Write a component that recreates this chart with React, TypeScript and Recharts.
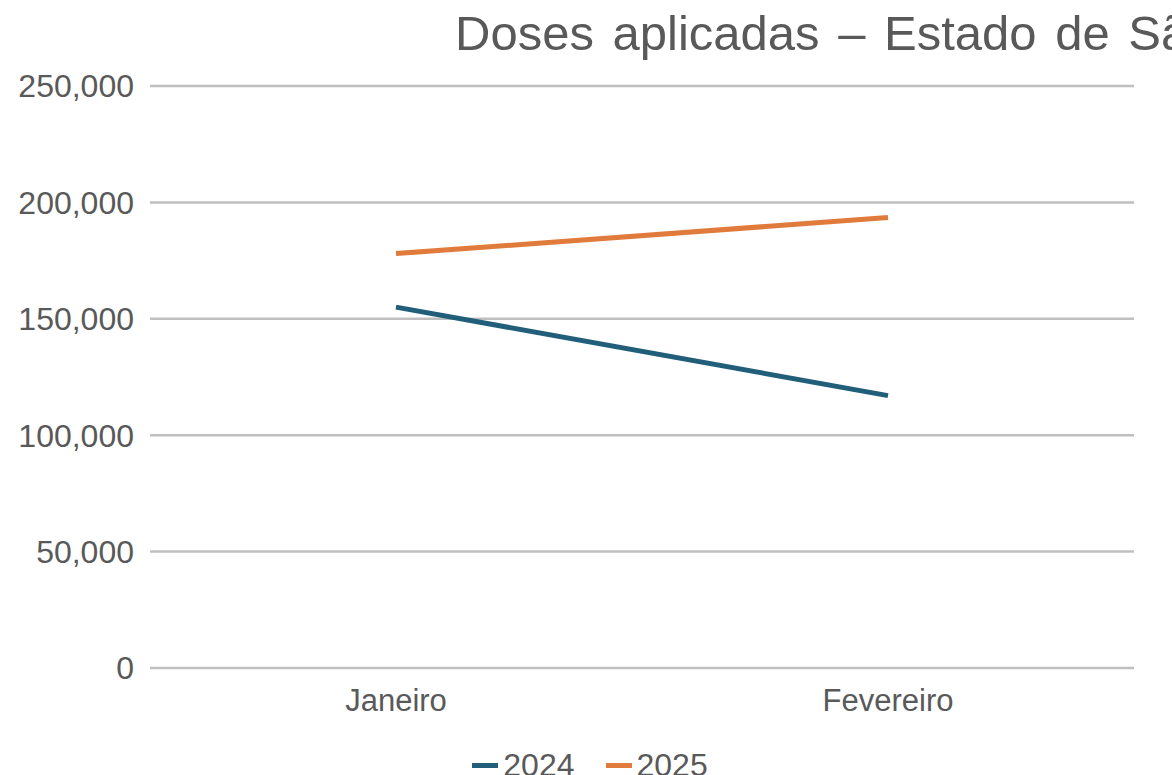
import React from 'react';
import {LineChart, Line, XAxis, YAxis, CartesianGrid, Legend} from 'recharts';

const months = ['Janeiro', 'Fevereiro'];
const doses2024 = [155000, 117000];
const doses2025 = [178000, 193500];
const yTicks = [0, 50000, 100000, 150000, 200000, 250000];

const data = months.map((m, i) => ({month: m, y2024: doses2024[i], y2025: doses2025[i]}));

const FONT = '"Liberation Sans", Arial, sans-serif';
const TEXT = '#595959';

const series = [
  {key: 'y2024', name: '2024', color: '#215e79'},
  {key: 'y2025', name: '2025', color: '#e07b3c'},
];

const LegendBox = () => (
  <div style={{display: 'flex', justifyContent: 'center', gap: 31, paddingLeft: 46, fontFamily: FONT, fontSize: 32, color: TEXT, lineHeight: '37px'}}>
    {series.map(s => (
      <div key={s.key} style={{display: 'flex', alignItems: 'center'}}>
        <span style={{display: 'inline-block', width: 26, height: 5, background: s.color, marginRight: 5}} />
        <span>{s.name}</span>
      </div>
    ))}
  </div>
);

const App = () => {
  return (
    <div style={{position: 'absolute', left: 0, top: 0, width: 1172, height: 775, overflow: 'hidden', background: '#fff'}}>
      <div style={{position: 'absolute', left: 455, top: 9, fontFamily: FONT, fontSize: 49, lineHeight: 1, wordSpacing: 5, color: TEXT, whiteSpace: 'nowrap'}}>
        Doses aplicadas – Estado de São Paulo
      </div>
      <LineChart width={1172} height={775} data={data} margin={{top: 86, right: 38, left: 0, bottom: 0}}>
        <CartesianGrid vertical={false} stroke="#bfbfbf" strokeWidth={2.5} />
        <XAxis
          dataKey="month"
          scale="band"
          axisLine={false}
          tickLine={false}
          height={70}
          tickMargin={15}
          tick={{fill: TEXT, fontSize: 31, fontFamily: FONT}}
        />
        <YAxis
          domain={[0, 250000]}
          ticks={yTicks}
          width={150}
          axisLine={false}
          tickLine={false}
          tickMargin={10}
          tickFormatter={(v: number) => v.toLocaleString('en-US')}
          tick={{fill: TEXT, fontSize: 32, fontFamily: FONT}}
        />
        <Legend verticalAlign="bottom" wrapperStyle={{bottom: -9}} content={() => <LegendBox />} />
        {series.map(s => (
          <Line
            key={s.key}
            type="linear"
            dataKey={s.key}
            name={s.name}
            stroke={s.color}
            strokeWidth={5}
            dot={false}
            activeDot={false}
            isAnimationActive={false}
          />
        ))}
      </LineChart>
    </div>
  );
};

export default App;
